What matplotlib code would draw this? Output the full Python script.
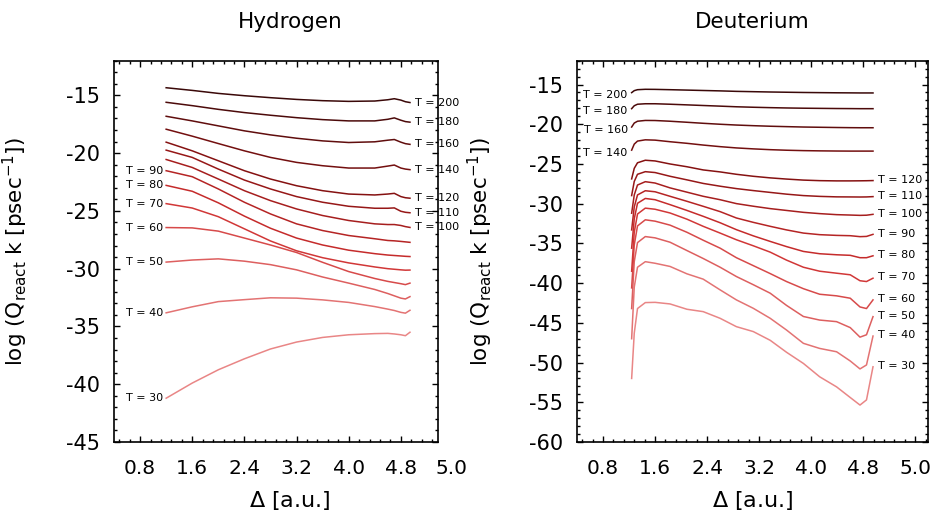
import numpy as np
import matplotlib.pyplot as plt
from matplotlib.colors import LinearSegmentedColormap

# ---------------- data ----------------
temps = [30, 40, 50, 60, 70, 80, 90, 100, 110, 120, 140, 160, 180, 200]

# Hydrogen: Delta grid [a.u.] and log(Q k) for each temperature
h_x = [1.2, 1.6, 2.0, 2.4, 2.8, 3.2, 3.6, 4.0, 4.4, 4.6, 4.7, 4.8, 4.87, 4.94]
h_30 = [-41.21, -39.9, -38.75, -37.8, -36.95, -36.35, -35.95, -35.72, -35.62, -35.6, -35.65, -35.72, -35.8, -35.5]
h_40 = [-33.82, -33.3, -32.85, -32.68, -32.52, -32.55, -32.7, -32.92, -33.28, -33.5, -33.62, -33.78, -33.85, -33.6]
h_50 = [-29.43, -29.25, -29.15, -29.35, -29.65, -30.1, -30.72, -31.25, -31.8, -32.15, -32.35, -32.55, -32.62, -32.42]
h_60 = [-26.44, -26.47, -26.75, -27.35, -27.95, -28.6, -29.45, -30.25, -30.85, -31.1, -31.2, -31.3, -31.38, -31.25]
h_70 = [-24.37, -24.75, -25.5, -26.55, -27.6, -28.45, -29.05, -29.5, -29.85, -30.0, -30.05, -30.1, -30.13, -30.12]
h_80 = [-22.79, -23.3, -24.3, -25.45, -26.5, -27.35, -27.95, -28.4, -28.7, -28.82, -28.86, -28.9, -28.93, -28.95]
h_90 = [-21.52, -22.04, -23.1, -24.25, -25.26, -26.12, -26.7, -27.13, -27.41, -27.56, -27.59, -27.64, -27.68, -27.72]
h_100 = [-20.55, -21.24, -22.24, -23.25, -24.11, -24.83, -25.4, -25.83, -26.12, -26.18, -26.18, -26.26, -26.36, -26.43]
h_110 = [-19.74, -20.37, -21.38, -22.33, -23.1, -23.76, -24.25, -24.6, -24.77, -24.77, -24.74, -25.03, -25.12, -25.16]
h_120 = [-19.05, -19.8, -20.66, -21.52, -22.24, -22.82, -23.25, -23.54, -23.62, -23.54, -23.48, -23.76, -23.86, -23.9]
h_140 = [-17.93, -18.53, -19.17, -19.8, -20.37, -20.8, -21.09, -21.29, -21.29, -21.12, -21.03, -21.29, -21.38, -21.43]
h_160 = [-16.81, -17.21, -17.64, -18.07, -18.42, -18.71, -18.94, -19.08, -19.02, -18.88, -18.82, -19.05, -19.18, -19.24]
h_180 = [-15.6, -15.89, -16.21, -16.49, -16.72, -16.93, -17.1, -17.21, -17.21, -17.07, -16.95, -17.15, -17.27, -17.32]
h_200 = [-14.34, -14.57, -14.83, -15.03, -15.2, -15.35, -15.46, -15.52, -15.49, -15.38, -15.29, -15.41, -15.55, -15.62]
h_curves = [h_30, h_40, h_50, h_60, h_70, h_80, h_90, h_100, h_110, h_120, h_140, h_160, h_180, h_200]
h_left_labels = [30, 40, 50, 60, 70, 80, 90]
h_right_labels = [100, 110, 120, 140, 160, 180, 200]

# Deuterium
d_x = [1.24, 1.28, 1.33, 1.45, 1.6, 1.83, 2.09, 2.34, 2.6, 2.85, 3.11, 3.37, 3.62, 3.88, 4.13, 4.39, 4.6, 4.75, 4.85, 4.95]
d_30 = [-52.0, -46.3, -43.2, -42.45, -42.42, -42.62, -43.29, -43.59, -44.43, -45.48, -46.1, -47.2, -48.7, -50.11, -51.79, -53.06, -54.4, -55.35, -54.7, -50.53]
d_40 = [-47.0, -40.5, -38.0, -37.3, -37.5, -37.9, -38.83, -39.5, -40.85, -42.11, -43.17, -44.43, -45.9, -47.58, -48.22, -48.64, -49.8, -50.8, -50.3, -46.66]
d_50 = [-43.2, -37.3, -34.9, -34.14, -34.3, -34.85, -35.9, -36.9, -38.0, -39.17, -40.2, -41.27, -42.8, -44.2, -44.65, -44.85, -45.6, -46.8, -46.5, -44.22]
d_60 = [-40.6, -35.2, -32.8, -32.03, -32.2, -32.7, -33.6, -34.6, -35.6, -36.8, -37.8, -38.8, -39.8, -40.7, -41.4, -41.6, -41.9, -43.0, -43.2, -42.11]
d_70 = [-38.5, -33.6, -31.3, -30.56, -30.7, -31.17, -31.95, -32.85, -33.7, -34.54, -35.3, -36.1, -37.1, -38.0, -38.5, -38.75, -38.95, -39.7, -39.8, -39.38]
d_80 = [-35.6, -31.9, -29.95, -29.34, -29.5, -30.12, -30.85, -31.59, -32.4, -33.27, -34.05, -34.75, -35.4, -36.01, -36.3, -36.43, -36.5, -36.8, -36.8, -36.56]
d_90 = [-33.3, -30.4, -28.9, -28.37, -28.5, -29.07, -29.7, -30.33, -31.0, -31.8, -32.35, -32.85, -33.3, -33.7, -33.9, -33.99, -34.03, -34.15, -34.12, -33.86]
d_100 = [-31.2, -28.9, -27.65, -27.23, -27.4, -28.01, -28.55, -29.07, -29.5, -29.99, -30.32, -30.62, -30.85, -31.09, -31.25, -31.38, -31.43, -31.47, -31.45, -31.34]
d_110 = [-28.98, -27.2, -26.3, -25.97, -26.08, -26.55, -27.0, -27.45, -27.8, -28.1, -28.35, -28.58, -28.8, -28.98, -29.08, -29.14, -29.15, -29.16, -29.15, -29.11]
d_120 = [-26.88, -25.55, -24.85, -24.53, -24.62, -25.0, -25.35, -25.75, -26.0, -26.3, -26.55, -26.75, -26.9, -27.03, -27.1, -27.13, -27.13, -27.12, -27.11, -27.09]
d_140 = [-23.26, -22.5, -22.12, -21.96, -22.0, -22.2, -22.4, -22.62, -22.82, -22.98, -23.1, -23.2, -23.27, -23.32, -23.35, -23.37, -23.38, -23.38, -23.38, -23.38]
d_160 = [-20.35, -19.85, -19.62, -19.52, -19.53, -19.62, -19.75, -19.88, -20.0, -20.1, -20.18, -20.25, -20.3, -20.35, -20.38, -20.41, -20.43, -20.44, -20.44, -20.44]
d_180 = [-18.04, -17.67, -17.48, -17.42, -17.42, -17.48, -17.56, -17.64, -17.72, -17.8, -17.86, -17.91, -17.95, -17.98, -18.0, -18.02, -18.03, -18.04, -18.04, -18.04]
d_200 = [-16.02, -15.77, -15.65, -15.6, -15.61, -15.65, -15.7, -15.75, -15.8, -15.86, -15.9, -15.94, -15.97, -16.0, -16.02, -16.04, -16.05, -16.06, -16.06, -16.06]
d_curves = [d_30, d_40, d_50, d_60, d_70, d_80, d_90, d_100, d_110, d_120, d_140, d_160, d_180, d_200]
d_left_labels = [140, 160, 180, 200]
d_right_labels = [30, 40, 50, 60, 70, 80, 90, 100, 110, 120]

x_ticks = [0.8, 1.6, 2.4, 3.2, 4.0, 4.8, 5.6]
x_ticklabels = ["0.8", "1.6", "2.4", "3.2", "4.0", "4.8", "5.0"]

# ---------------- figure ----------------
plt.rcParams['font.family'] = ['DejaVu Sans']
cmap = LinearSegmentedColormap.from_list("reds", ["#e98686", "#cf3030", "#8c1212", "#3a0808"])
colors = [cmap(v) for v in np.linspace(0, 1, len(temps))]

fig = plt.figure(figsize=(9.37, 5.15), dpi=100)
W, H = 937, 515
ax1 = fig.add_axes([114 / W, 1 - 442 / H, 324 / W, 381.3 / H])
ax2 = fig.add_axes([577 / W, 1 - 442 / H, 351.3 / W, 381.3 / H])

ylabel = r"log (Q$_{\rm react}$ k [psec$^{-1}$])"


def style_axes(ax, xlim, ylim, yticks, title, title_x, ylab_x):
    ax.set_xlim(*xlim)
    ax.set_ylim(*ylim)
    shown = [t for t in x_ticks if t <= xlim[1]]
    ax.set_xticks(shown)
    ax.set_xticklabels(x_ticklabels[:len(shown)], fontsize=14.5)
    ax.set_xticks(np.arange(0.48, xlim[1], 0.16), minor=True)
    ax.set_yticks(yticks)
    ax.set_yticklabels([str(t) for t in yticks], fontsize=15)
    ax.set_yticks(np.arange(ylim[0], ylim[1] + 0.01, 1), minor=True)
    ax.tick_params(which='both', direction='in', top=True, right=True, width=1)
    ax.tick_params(which='major', length=4)
    ax.tick_params(which='minor', length=2)
    ax.tick_params(axis='y', pad=10)
    ax.tick_params(axis='x', pad=12)
    for sp in ax.spines.values():
        sp.set_linewidth(1.2)
    ax.set_ylabel(ylabel, fontsize=15.5)
    ax.yaxis.set_label_coords(ylab_x, 0.5)
    ax.set_xlabel(r"$\Delta$ [a.u.]", fontsize=16)
    ax.xaxis.label.set_verticalalignment('center')
    ax.xaxis.set_label_coords(title_x, -58 / 381.3)
    ax.text(title_x, 1 + 38.7 / 381.3, title, transform=ax.transAxes,
            ha='center', va='center', fontsize=15.5)


# --- Hydrogen ---
for T, y, c in zip(temps, h_curves, colors):
    ax1.plot(h_x, y, color=c, lw=1.1)
    if T in h_left_labels:
        ax1.text(1.15, y[0], f"T = {T}", ha='right', va='center', fontsize=8)
    if T in h_right_labels:
        ax1.text(5.01, y[-1], f"T = {T}", ha='left', va='center', fontsize=8)
style_axes(ax1, (0.4, 5.37), (-45, -12), [-45, -40, -35, -30, -25, -20, -15],
           "Hydrogen", (290 - 114) / 324, -84 / 324)
# the last tick label sits outside the frame in the reference
fig.text(452 / W, 1 - 468 / H, x_ticklabels[-1], ha='center', va='center', fontsize=14.5)

# --- Deuterium ---
for T, y, c in zip(temps, d_curves, colors):
    ax2.plot(d_x, y, color=c, lw=1.1)
    if T in d_left_labels:
        ax2.text(1.18, y[0] - 0.35, f"T = {T}", ha='right', va='center', fontsize=8)
    if T in d_right_labels:
        ax2.text(5.02, y[-1] + 0.1, f"T = {T}", ha='left', va='center', fontsize=8)
style_axes(ax2, (0.4, 5.8), (-60, -12), [-60, -55, -50, -45, -40, -35, -30, -25, -20, -15],
           "Deuterium", 0.5, -82 / 351.3)

fig.savefig("out.png", dpi=100)
